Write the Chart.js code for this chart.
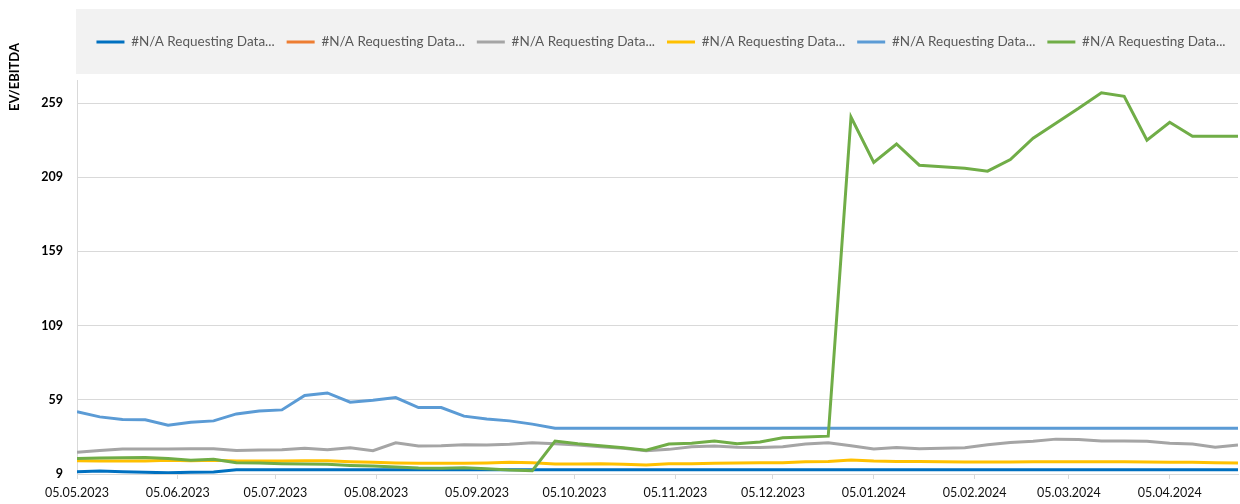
<!DOCTYPE html>
<html><head><meta charset="utf-8">
<script src="https://cdn.jsdelivr.net/npm/chart.js@4.4.1/dist/chart.umd.min.js"></script>
<style>html,body{margin:0;padding:0;background:#fff;} #wrap{width:1240px;height:504px;position:relative;}</style>
</head><body><div id="wrap"><canvas id="c"></canvas></div>
<script>
const dates = ['05.05.2023','12.05.2023','19.05.2023','26.05.2023','02.06.2023','09.06.2023','16.06.2023','23.06.2023','30.06.2023',
'07.07.2023','14.07.2023','21.07.2023','28.07.2023','04.08.2023','11.08.2023','18.08.2023','25.08.2023',
'01.09.2023','08.09.2023','15.09.2023','22.09.2023','29.09.2023','06.10.2023','13.10.2023','20.10.2023','27.10.2023',
'03.11.2023','10.11.2023','17.11.2023','24.11.2023','01.12.2023','08.12.2023','15.12.2023','22.12.2023','29.12.2023',
'05.01.2024','12.01.2024','19.01.2024','26.01.2024','02.02.2024','09.02.2024','16.02.2024','23.02.2024',
'01.03.2024','08.03.2024','15.03.2024','22.03.2024','29.03.2024','05.04.2024','12.04.2024','19.04.2024','26.04.2024'];
const tickLabels = ['05.05.2023','05.06.2023','05.07.2023','05.08.2023','05.09.2023','05.10.2023','05.11.2023','05.12.2023','05.01.2024','05.02.2024','05.03.2024','05.04.2024'];
const yTicks = [9, 59, 109, 159, 209, 259];
const yMin = 9, yMax = 274;
const seriesNames = ['#N/A Requesting Data...','#N/A Requesting Data...','#N/A Requesting Data...','#N/A Requesting Data...','#N/A Requesting Data...','#N/A Requesting Data...'];
const seriesColors = ['#0070C0','#ED7D31','#A5A5A5','#FFC000','#5B9BD5','#70AD47'];

const s1 = [10.5,11.0,10.5,10.1,9.9,10.1,10.3,11.9,11.9,11.9,11.9,11.9,11.9,11.9,11.9,11.9,11.9,11.9,11.9,11.9,11.9,11.9,11.9,11.9,11.9,11.9,
11.9,11.9,11.9,11.9,11.9,11.9,11.9,11.9,11.9,11.9,11.9,11.9,11.9,11.9,11.9,11.9,11.9,11.9,11.9,11.9,11.9,11.9,11.9,11.9,11.9,11.9];
const s2 = [null,null,null,null,null,null,null,null,null,null,null,null,null,null,null,null,null,null,null,null,null,null,null,null,null,null,
null,null,null,null,null,null,null,null,null,null,null,null,null,null,null,null,null,null,null,null,null,null,null,null,null,null];
const s3 = [23.6,24.9,25.8,25.8,25.8,26.0,26.0,24.9,25.1,25.3,26.3,25.3,26.7,24.7,30.0,27.8,28.0,28.7,28.5,29.0,30.0,29.4,28.5,27.3,26.3,24.7,
25.6,27.3,27.8,27.1,26.9,27.3,29.2,30.0,28.0,25.8,26.9,26.0,26.3,26.7,28.7,30.3,31.0,32.5,32.3,31.2,31.2,31.0,29.8,29.2,27.1,28.5];
const s4 = [17.9,17.7,17.7,17.7,18.2,17.9,18.2,17.7,17.7,17.7,17.9,17.9,17.3,16.9,16.4,16.2,16.2,16.2,16.4,16.9,16.6,15.7,15.7,15.9,15.5,15.0,
15.9,15.9,16.2,16.4,16.6,16.6,17.3,17.5,18.4,17.7,17.5,17.5,17.3,17.1,17.1,17.1,17.3,17.3,17.3,17.3,17.3,17.1,16.9,16.9,16.6,16.4];
const s5 = [50.9,47.5,45.7,45.5,41.9,43.9,44.8,49.5,51.5,52.2,61.9,63.6,57.4,58.7,60.5,53.8,53.8,48.0,46.0,44.8,42.6,39.9,39.9,39.9,39.9,39.9,
39.9,39.9,39.9,39.9,39.9,39.9,39.9,39.9,39.9,39.9,39.9,39.9,39.9,39.9,39.9,39.9,39.9,39.9,39.9,39.9,39.9,39.9,39.9,39.9,39.9,39.9];
const s6 = [19.5,19.8,20.0,20.2,19.5,18.2,18.9,16.6,16.4,15.9,15.7,15.5,14.8,14.4,13.7,13.0,12.8,13.2,12.6,11.7,11.2,31.2,29.4,28.0,26.7,25.0,
29.2,29.8,31.2,29.4,30.5,33.4,33.9,34.5,249.6,218.9,231.4,217.1,216.1,215.1,213.1,220.9,235.3,245.4,255.4,265.9,263.5,233.9,246.0,236.6,236.6,236.6];
const allSeries = [s1, s2, s3, s4, s5, s6];

function dayNum(s) { const p = s.split('.'); return Date.UTC(+p[2], +p[1] - 1, +p[0]) / 86400000; }
const d0 = dayNum(dates[0]);
const xs = dates.map(d => dayNum(d) - d0);
const tickXs = tickLabels.map(d => dayNum(d) - d0);

const datasets = allSeries.map((arr, k) => ({
  label: seriesNames[k],
  data: arr.map((v, i) => ({ x: xs[i], y: v })),
  borderColor: seriesColors[k],
  backgroundColor: seriesColors[k],
  borderWidth: 3,
  pointRadius: 0,
  pointHoverRadius: 0,
  tension: 0,
  order: allSeries.length - k,
  pointStyle: 'line'
}));

const decor = {
  id: 'decor',
  afterLayout(chart) {
    const lg = chart.legend;
    if (lg) { lg.left = chart.chartArea.left - 5; lg.right = chart.width + 10; }
  },
  beforeDraw(chart) {
    const ctx = chart.ctx;
    ctx.save();
    ctx.fillStyle = '#F2F2F2';
    const l = chart.chartArea.left - 1;
    ctx.fillRect(l, 9, chart.width - l, 65);
    ctx.restore();
  },
  afterDraw(chart) {
    const ctx = chart.ctx;
    ctx.save();
    ctx.translate(15, 77);
    ctx.rotate(-Math.PI / 2);
    ctx.font = 'bold 13px Lato';
    ctx.fillStyle = '#000';
    ctx.textAlign = 'center';
    ctx.textBaseline = 'middle';
    ctx.fillText('EV/EBITDA', 0, 0);
    ctx.restore();
  }
};

new Chart(document.getElementById('c'), {
  type: 'line',
  data: { datasets },
  plugins: [decor],
  options: {
    responsive: true,
    maintainAspectRatio: false,
    animation: false,
    devicePixelRatio: 1,
    layout: { padding: { top: 23.25, bottom: 2, left: 0, right: 2 } },
    plugins: {
      tooltip: { enabled: false },
      title: { display: true, text: '', weight: 500, font: { size: 1, lineHeight: 1 }, padding: { top: 0, bottom: 21 } },
      legend: {
        position: 'top',
        labels: {
          usePointStyle: true,
          pointStyleWidth: 28,
          padding: 12,
          color: '#595959',
          font: { family: 'Lato', size: 13.5 },
          sort: (a, b) => a.datasetIndex - b.datasetIndex
        }
      }
    },
    scales: {
      x: {
        type: 'linear',
        min: 0,
        max: xs[xs.length - 1],
        afterBuildTicks: (scale) => { scale.ticks = tickXs.map(v => ({ value: v })); },
        afterFit: (scale) => { scale.height = 28; },
        ticks: {
          autoSkip: false,
          maxRotation: 0,
          padding: 6,
          color: '#111',
          font: { family: 'Lato', size: 12.5 },
          callback: (v) => { const i = tickXs.indexOf(v); return i >= 0 ? tickLabels[i] : ''; }
        },
        grid: { drawOnChartArea: false, drawTicks: true, tickLength: 5, color: '#D9D9D9' },
        border: { display: true, color: '#D9D9D9' }
      },
      y: {
        type: 'linear',
        min: yMin,
        max: yMax,
        afterBuildTicks: (scale) => { scale.ticks = yTicks.map(v => ({ value: v })); },
        afterFit: (scale) => { scale.width = 77; },
        ticks: {
          padding: 14,
          color: '#000',
          font: { family: 'Lato', size: 12.5, weight: 'bold' }
        },
        grid: { color: '#D9D9D9', drawTicks: false },
        border: { display: true, color: '#D9D9D9' }
      }
    }
  }
});
</script></body></html>
